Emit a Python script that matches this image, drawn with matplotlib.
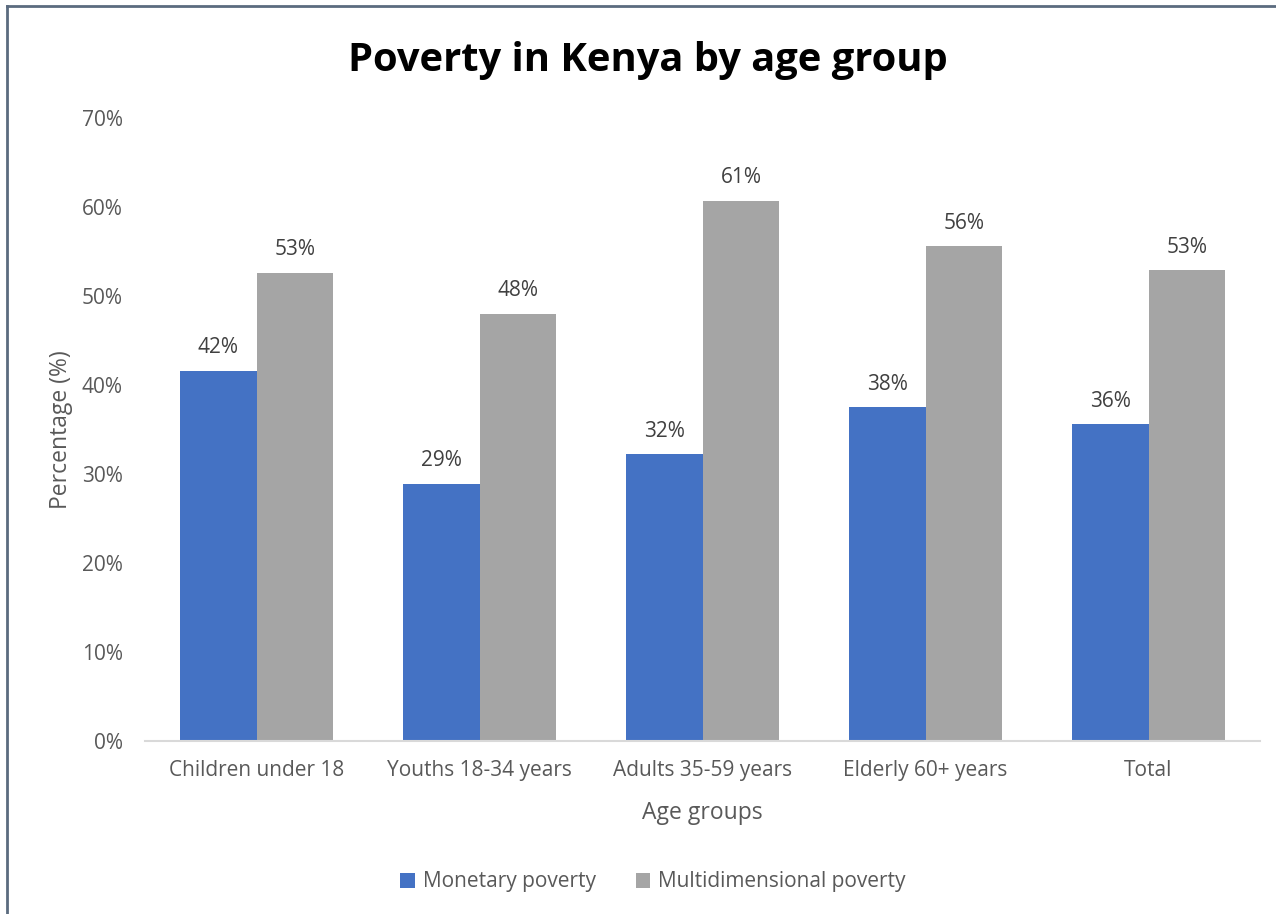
import matplotlib.pyplot as plt
import numpy as np

plt.rcParams['font.family'] = ['Open Sans', 'DejaVu Sans']

categories = ["Children under 18", "Youths 18-34 years", "Adults 35-59 years",
              "Elderly 60+ years", "Total"]
monetary = [41.6, 28.9, 32.2, 37.5, 35.6]
multidim = [52.6, 48.0, 60.7, 55.6, 52.9]
series_names = ["Monetary poverty", "Multidimensional poverty"]

blue = '#4472c4'
grey = '#a5a5a5'
txt = '#595959'

fig = plt.figure(figsize=(12.76, 9.14), dpi=100)
ax = fig.add_axes([145/1276, 1 - 741/914, 1115/1276, 623/914])

x = np.arange(len(categories))
w = 0.345
b1 = ax.bar(x - w/2, monetary, w, color=blue, label=series_names[0])
b2 = ax.bar(x + w/2, multidim, w, color=grey, label=series_names[1])

for bars in (b1, b2):
    for r in bars:
        h = r.get_height()
        ax.text(r.get_x() + r.get_width()/2, h + 1.4, "{:.0f}%".format(h),
                ha='center', va='bottom', fontsize=15, color='#404040')

ax.set_xlim(-0.5, len(categories) - 0.5)
ax.set_ylim(0, 70)
ax.set_yticks(range(0, 71, 10))
ax.set_yticklabels(["{}%".format(v) for v in range(0, 71, 10)])
ax.set_xticks(x)
ax.set_xticklabels(categories)
ax.tick_params(axis='both', length=0, labelsize=15, colors=txt)
ax.tick_params(axis='y', pad=16)
ax.tick_params(axis='x', pad=14)
for s in ['top', 'right', 'left']:
    ax.spines[s].set_visible(False)
ax.spines['bottom'].set_color('#d9d9d9')
ax.spines['bottom'].set_linewidth(1.5)

ax.set_xlabel("Age groups", fontsize=16.5, color=txt, labelpad=14)
ax.set_ylabel("Percentage (%)", fontsize=16.5, color=txt, labelpad=6)

fig.text(648/1276, 1 - 60/914, "Poverty in Kenya by age group", ha='center', va='center',
         fontsize=28.7, fontweight='bold', color='black')

fig.legend(loc='center', bbox_to_anchor=(653/1276, 1 - 882/914), ncol=2, frameon=False,
           fontsize=15, labelcolor=txt, handlelength=0.7, handleheight=0.7,
           columnspacing=1.9, handletextpad=0.4)

# frame around the chart
fig.add_artist(plt.Line2D([7/1276, 7/1276], [0, 1 - 6/914], color='#5b6b7f', lw=2,
                          transform=fig.transFigure))
fig.add_artist(plt.Line2D([7/1276, 1], [1 - 6/914, 1 - 6/914], color='#5b6b7f', lw=2,
                          transform=fig.transFigure))

fig.savefig("out.png", dpi=100)
